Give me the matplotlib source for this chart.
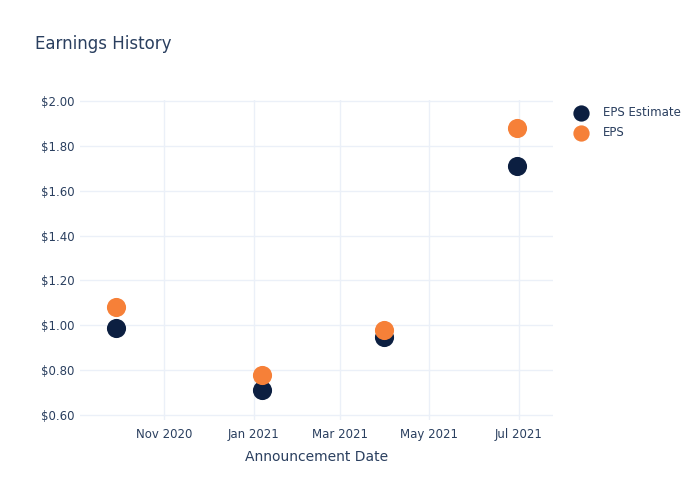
import matplotlib
matplotlib.use("Agg")
import matplotlib.pyplot as plt
import matplotlib.dates as mdates
import pandas as pd

# earnings data
dates = pd.to_datetime(["2020-09-29", "2021-01-07", "2021-03-31", "2021-06-30"])
eps_estimate = [0.99, 0.71, 0.95, 1.71]
eps_actual = [1.08, 0.78, 0.98, 1.88]

TEXT = "#2a3f5f"
GRID = "#ebf0f8"

fig = plt.figure(figsize=(7, 5), dpi=100)
ax = fig.add_axes([80 / 700, 1 - 420 / 500, 473 / 700, 320 / 500])

ax.scatter(dates, eps_estimate, s=190, color="#0c1f41", label="EPS Estimate", zorder=3, linewidths=0)
ax.scatter(dates, eps_actual, s=190, color="#f68038", label="EPS", zorder=4, linewidths=0)

ax.set_xlim(pd.Timestamp("2020-09-04 12:00"), pd.Timestamp("2021-07-24 12:00"))
ax.set_ylim(0.578, 2.0045)
ax.set_yticks([0.6, 0.8, 1.0, 1.2, 1.4, 1.6, 1.8, 2.0])
ax.yaxis.set_major_formatter(matplotlib.ticker.FuncFormatter(lambda v, p: f"${v:.2f}"))
ax.set_xticks(pd.to_datetime(["2020-11-01", "2021-01-01", "2021-03-01", "2021-05-01", "2021-07-01"]))
ax.xaxis.set_major_formatter(mdates.DateFormatter("%b %Y"))

ax.grid(True, color=GRID, linewidth=1)
ax.set_axisbelow(True)
for s in ax.spines.values():
    s.set_visible(False)
ax.tick_params(length=0, labelsize=8.5, colors=TEXT, pad=6)
ax.tick_params(axis="y", pad=4)

ax.set_xlabel("Announcement Date", fontsize=10, color=TEXT, labelpad=6)
fig.text(35 / 700, 1 - 44 / 500, "Earnings History", fontsize=12, color=TEXT, va="center")

leg = ax.legend(loc="upper left", bbox_to_anchor=(1.025, 0.995), frameon=False,
                fontsize=8.5, labelcolor=TEXT, handletextpad=0.8, markerscale=0.85,
                labelspacing=0.55, borderaxespad=0.0)

fig.savefig("out.png", dpi=100)
